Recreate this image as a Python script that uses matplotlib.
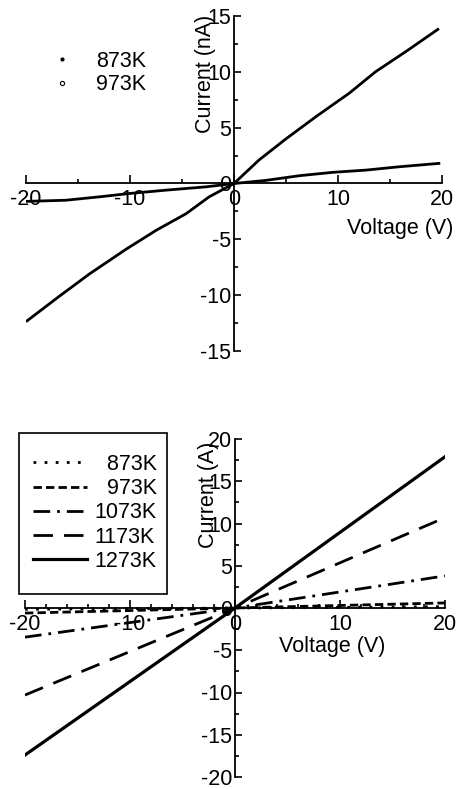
# I-V curves at different temperatures
import matplotlib.pyplot as plt
from matplotlib.lines import Line2D
from matplotlib.patches import Rectangle
from matplotlib.ticker import MultipleLocator

plt.rcParams['font.family'] = ['Liberation Sans', 'DejaVu Sans']
plt.rcParams['font.size'] = 15.5
plt.rcParams['axes.unicode_minus'] = False

# Top panel data (nA)
v_873_top = [-19.9, -16.2, -13.0, -10.1, -6.6, -2.7, 0, 3.0, 6.3, 9.5, 12.7, 15.9, 19.7]
i_873_top = [-1.6, -1.5, -1.2, -0.9, -0.6, -0.3, 0, 0.27, 0.7, 1.0, 1.2, 1.5, 1.8]
v_973_top = [-19.9, -16.8, -13.9, -10.4, -7.5, -4.6, -2.4, 0, 2.4, 5.0, 7.9, 11.1, 13.6, 16.5, 19.6]
i_973_top = [-12.3, -10.1, -8.1, -5.9, -4.2, -2.7, -1.2, 0, 2.1, 4.0, 6.0, 8.1, 10.0, 11.8, 13.8]

# Bottom panel data (A)
v_bot = [-20, 0, 20]
i_873 = [-0.15, 0, 0.15]
i_973 = [-0.6, 0, 0.6]
i_1073 = [-3.45, 0, 3.8]
i_1173 = [-10.3, 0, 10.7]
i_1273 = [-17.4, 0, 17.9]
labels_bot = ['\u2007873K', '\u2007973K', '1073K', '1173K', '1273K']

W, H = 461, 789
fig = plt.figure(figsize=(W / 100, H / 100), dpi=100)


def style(ax, ylim, xminor, yminor):
    ax.set_xlim(-20, 20)
    ax.set_ylim(*ylim)
    ax.patch.set_visible(False)
    for s in ['top', 'right']:
        ax.spines[s].set_visible(False)
    for s in ['left', 'bottom']:
        ax.spines[s].set_position(('data', 0))
        ax.spines[s].set_linewidth(1.3)
    ax.xaxis.set_major_locator(MultipleLocator(10))
    ax.xaxis.set_minor_locator(MultipleLocator(xminor))
    ax.yaxis.set_major_locator(MultipleLocator(5))
    ax.yaxis.set_minor_locator(MultipleLocator(yminor))
    ax.tick_params(which='both', direction='in', width=1.2)
    ax.tick_params(axis='x', which='major', length=6, pad=4)
    ax.tick_params(axis='y', which='major', length=5, pad=2)
    ax.tick_params(which='minor', length=3)


# Top panel
ax1 = fig.add_axes([26 / W, 1 - 351 / H, 416 / W, 335 / H])
style(ax1, (-15, 15), 5, 2.5)
ax1.plot(v_873_top, i_873_top, color='k', lw=2)
ax1.plot(v_973_top, i_973_top, color='k', lw=2)
ax1.text(16, -4.0, 'Voltage (V)', ha='center', va='center')
ax1.text(-2.7, 9.85, 'Current (nA)', rotation=90, ha='center', va='center')
handles = [Line2D([], [], marker='.', color='k', ls='none', markersize=4),
           Line2D([], [], marker='o', color='k', mfc='white', ls='none', markersize=3, mew=0.8)]
ax1.legend(handles, ['873K', '973K'], loc='upper left', frameon=False,
           bbox_to_anchor=(51 / W, 1 - 51 / H), bbox_transform=fig.transFigure,
           borderpad=0, borderaxespad=0, handlelength=1, handletextpad=1.1,
           labelspacing=0.1)

# Bottom panel
ax2 = fig.add_axes([25 / W, 1 - 777 / H, 420 / W, 338 / H])
style(ax2, (-20, 20), 2, 2.5)
ax2.plot(v_bot, i_873, color='k', lw=2, ls=(0, (1, 3)))
ax2.plot(v_bot, i_973, color='k', lw=2, ls=(0, (3, 1.5)))
ax2.plot(v_bot, i_1073, color='k', lw=2, ls=(0, (6, 2.5, 1, 2.5)))
ax2.plot(v_bot, i_1173, color='k', lw=2, ls=(0, (7, 4)))
ax2.plot(v_bot, i_1273, color='k', lw=2.3, ls='-')
ax2.text(9.3, -4.6, 'Voltage (V)', ha='center', va='center')
ax2.text(-2.57, 13.4, 'Current (A)', rotation=90, ha='center', va='center')
ax2.legend(ax2.get_lines(), labels_bot, loc='upper left', frameon=False,
           bbox_to_anchor=(33 / W, 1 - 454 / H), bbox_transform=fig.transFigure,
           borderpad=0, borderaxespad=0, handlelength=2.5, handletextpad=0.37,
           labelspacing=0.15)
fig.add_artist(Rectangle((19 / W, 1 - 594 / H), 148 / W, 161 / H,
                         transform=fig.transFigure, fill=False, lw=1.2, color='k'))

fig.savefig('out.png', dpi=100)
